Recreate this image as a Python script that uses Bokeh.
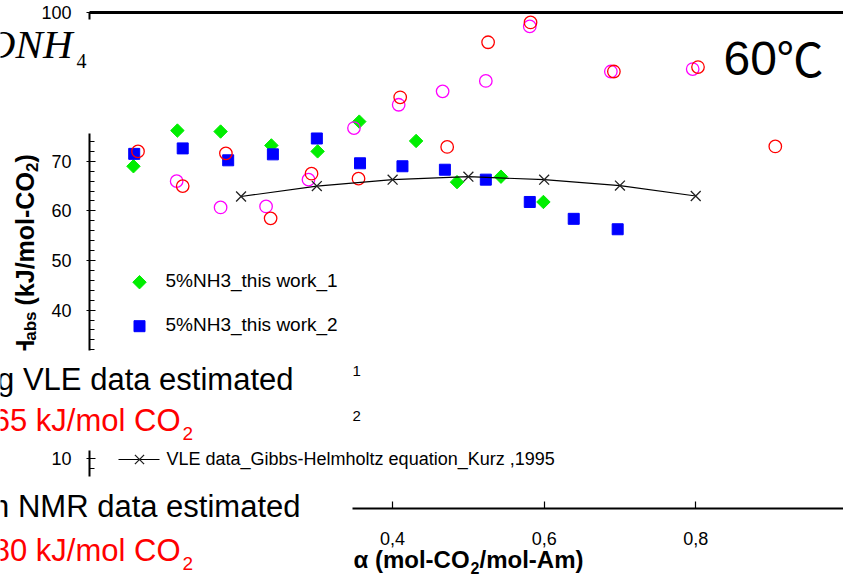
import math
from bokeh.plotting import figure
from bokeh.models import (Range1d, FixedTicker, SingleIntervalTicker, Label,
                          BoxAnnotation, LinearAxis)
from bokeh.embed import file_html
from bokeh.resources import INLINE

# ---------------- data ----------------
nh3_1_alpha = [0.058, 0.116, 0.173, 0.240, 0.301, 0.356, 0.431, 0.485, 0.543, 0.599]
nh3_1_dh = [69.0, 76.2, 76.0, 73.2, 72.0, 78.0, 74.1, 65.8, 66.9, 61.8]

nh3_2_alpha = [0.059, 0.123, 0.183, 0.242, 0.300, 0.357, 0.413, 0.469, 0.523, 0.581, 0.639, 0.697]
nh3_2_dh = [71.5, 72.6, 70.2, 71.4, 74.6, 69.6, 69.0, 68.3, 66.3, 61.8, 58.4, 56.3]

nmr_1_alpha = [0.115, 0.173, 0.233, 0.289, 0.349, 0.408, 0.466, 0.523, 0.581, 0.688, 0.796]
nmr_1_dh = [66.0, 60.7, 60.9, 66.3, 76.7, 81.4, 84.1, 86.2, 97.2, 88.1, 88.6]

nmr_2_alpha = [0.064, 0.123, 0.180, 0.239, 0.293, 0.355, 0.410, 0.472, 0.526, 0.582, 0.692, 0.803, 0.905]
nmr_2_dh = [72.0, 65.0, 71.6, 58.5, 67.5, 66.5, 82.9, 72.9, 94.0, 98.0, 88.1, 89.0, 73.0]

vle_alpha = [0.2, 0.3, 0.4, 0.5, 0.6, 0.7, 0.8]
vle_dh = [62.9, 65.0, 66.3, 66.9, 66.3, 65.1, 63.0]

x_ticks = [0.4, 0.6, 0.8]
x_tick_labels = ["0,4", "0,6", "0,8"]
y_labels_shown = [10, 40, 50, 60, 70, 100]

legend_1 = "5%NH3_this work_1"
legend_2 = "5%NH3_this work_2"
legend_vle = "VLE data_Gibbs-Helmholtz equation_Kurz ,1995"

# ---------------- layout ----------------
W, H = 843, 576
FL, FT, FB = 89, 12, 508          # pixel position of alpha=0, dH=100, dH=0
X_END = 0.995                      # alpha at the right window edge
SANS = "Liberation Sans"
GREEN, BLUE, MAGENTA, RED = "#00EE00", "#0000FF", "#FF00FF", "#FF0000"
KX = (W - FL) / X_END
KY = (FB - FT) / 100.0
BASE_FIX = 0.4                     # Label baseline correction (fraction of font size)


def X(px):
    return (px - FL) / KX


def Y(py):
    return (FB - py) / KY


p = figure(width=W, height=H, output_backend="svg", toolbar_location=None,
           x_range=Range1d(X(0), X(W)), y_range=Range1d(Y(H), Y(0)),
           min_border=0, min_border_left=0, min_border_right=0,
           min_border_top=0, min_border_bottom=0)
p.title.visible = False
p.grid.visible = False
p.outline_line_color = None
p.background_fill_color = "white"
p.border_fill_color = "white"

# x axis (drawn at dH = 0)
xa = p.xaxis[0]
xa.fixed_location = 0
xa.bounds = (0, X_END)
xa.ticker = FixedTicker(ticks=x_ticks, minor_ticks=[])
xa.major_label_overrides = {t: l for t, l in zip(x_ticks, x_tick_labels)}
xa.axis_line_width = 2
xa.major_tick_in = 7
xa.major_tick_out = 0
xa.major_tick_line_width = 1.2
xa.minor_tick_line_color = None
xa.major_label_standoff = 23
xa.major_label_text_font = SANS
xa.major_label_text_font_size = "18px"
xa.major_label_text_color = "black"

# y axis (drawn at alpha = 0)
ya = p.yaxis[0]
ya.fixed_location = 0
ya.bounds = (0, 100)
ya.ticker = SingleIntervalTicker(interval=10, num_minor_ticks=5)
ya.major_label_overrides = {v: (str(v) if v in y_labels_shown else "") for v in range(0, 101, 10)}
ya.axis_line_width = 2
ya.major_tick_in = 6
ya.major_tick_out = 3
ya.minor_tick_in = 5
ya.minor_tick_out = 0
ya.major_tick_line_width = 1.2
ya.minor_tick_line_width = 1.2
ya.major_label_standoff = 15
ya.major_label_text_font = SANS
ya.major_label_text_font_size = "18px"
ya.major_label_text_color = "black"

# top frame line (an axis without ticks at dH = 100)
ta = LinearAxis(fixed_location=100, bounds=(0, X_END), ticker=FixedTicker(ticks=[]),
                axis_line_width=3, major_tick_line_color=None, minor_tick_line_color=None,
                major_label_text_font_size="0px")
p.add_layout(ta, "above")

# ---------------- data glyphs ----------------
p.scatter(nh3_1_alpha, nh3_1_dh, marker="square", angle=math.pi / 4, size=9.5,
          fill_color=GREEN, line_color=GREEN)
p.scatter(nh3_2_alpha, nh3_2_dh, marker="square", size=11, fill_color=BLUE, line_color=BLUE)
p.scatter(nmr_1_alpha, nmr_1_dh, marker="circle", size=12.5, fill_color=None,
          line_color=MAGENTA, line_width=1.3)
p.scatter(nmr_2_alpha, nmr_2_dh, marker="circle", size=12.5, fill_color=None,
          line_color=RED, line_width=1.3)
p.line(vle_alpha, vle_dh, line_color="black", line_width=1.2)
p.scatter(vle_alpha, vle_dh, marker="x", size=14, line_color="#222222", line_width=1.3)

# ---------------- legend (manual) ----------------
p.scatter([X(139)], [Y(281.7)], marker="square", angle=math.pi / 4, size=9.5,
          fill_color=GREEN, line_color=GREEN)
p.scatter([X(139)], [Y(325.7)], marker="square", size=11, fill_color=BLUE, line_color=BLUE)
p.line([X(118), X(159)], [Y(459), Y(459)], line_color="black", line_width=1.2)
p.scatter([X(139)], [Y(459)], marker="x", size=13, line_color="#222222", line_width=1.3)


def lab(px, py, text, size, color="black", align="left", font=SANS, style="normal",
        rotated=False):
    """Place a text so that its alphabetic baseline starts at pixel (px, py)."""
    if rotated:
        px = px - BASE_FIX * size
    else:
        py = py - BASE_FIX * size
    p.add_layout(Label(x=X(px), y=Y(py), text=text, text_align=align,
                       text_baseline="alphabetic", text_font=font,
                       text_font_size=f"{size}px", text_color=color,
                       text_font_style=style, angle=(math.pi / 2 if rotated else 0.0)))


lab(165, 288, legend_1, 19)
lab(165, 332, legend_2, 19)
lab(166, 466, legend_vle, 18)

# y axis title (rotated, composed for subscripts)
lab(34, 162.1, ")", 25, style="bold", rotated=True)
lab(38, 171.6, "2", 17, style="bold", rotated=True)
lab(34, 305.0, "(kJ/mol-CO", 25, style="bold", rotated=True)
lab(37, 340.3, "abs", 17, style="bold", rotated=True)
lab(34, 375.0, "\u0394H", 25, style="bold", rotated=True)

# x axis title (composed for subscript)
lab(353, 569, "\u03b1 (mol-CO", 24, style="bold")
lab(470, 574, "2", 16, style="bold")
lab(479, 569, "/mol-Am)", 24, style="bold")

# ---------------- white overlay boxes ----------------
for (l, r, t, b) in [(-5, 97, 19, 133), (-5, 350, 350, 450), (-5, 352, 476, 590)]:
    p.add_layout(BoxAnnotation(left=X(l), right=X(r), top=Y(t), bottom=Y(b),
                               fill_color="white", fill_alpha=1.0, line_color=None,
                               line_alpha=0))

# texts over boxes
lab(72, 60, "ONH", 41, font="Liberation Serif", style="italic", align="right")
lab(76, 68, "4", 20, font="Liberation Serif")
lab(293, 391, "g VLE data estimated", 31, align="right")
lab(180, 432, "65 kJ/mol CO", 31, color=RED, align="right")
lab(182, 441, "2", 19, color=RED)
lab(300, 518, "n NMR data estimated", 31, align="right")
lab(180, 562, "80 kJ/mol CO", 31, color=RED, align="right")
lab(182, 571, "2", 19, color=RED)
lab(352, 376, "1", 15)
lab(352, 421, "2", 15)

# temperature label
lab(723, 77, "60", 48)
lab(776, 75, "\u2103", 47, font="Noto Sans CJK SC")

open("out.html", "w").write(file_html(p, INLINE))
